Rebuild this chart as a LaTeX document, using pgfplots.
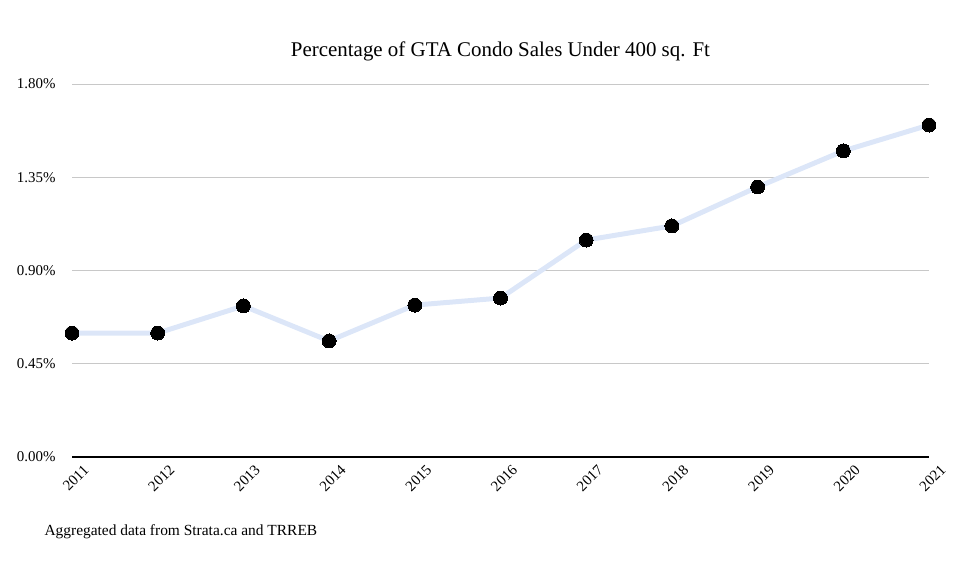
\documentclass[border=0pt]{standalone}
\usepackage{pgfplots}
\pgfplotsset{compat=1.18}
\usepackage{fontspec}
\setmainfont{Liberation Serif}
\definecolor{linecol}{HTML}{DCE6F8}
\definecolor{gridcol}{HTML}{C8C8C8}
\begin{document}
\begin{tikzpicture}
\useasboundingbox (-72bp,-104bp) rectangle (908bp,457bp);
\begin{axis}[
    scale only axis,
    width=857bp, height=373bp,
    xmin=2011, xmax=2021,
    ymin=0, ymax=1.8,
    axis x line*=bottom,
    axis y line*=left,
    x axis line style={black, line width=1.4pt, -},
    y axis line style={draw=none},
    xtick={2011,2012,...,2021},
    xticklabels={2011,2012,2013,2014,2015,2016,2017,2018,2019,2020,2021},
    ytick={0,0.45,0.9,1.35,1.8},
    yticklabels={0.00\%,0.45\%,0.90\%,1.35\%,1.80\%},
    ymajorgrids,
    major grid style={gridcol, line width=0.6pt},
    major tick length=0pt,
    tick label style={font=\fontsize{15}{17}\selectfont},
    xticklabel style={rotate=45, anchor=north east, xshift=6bp, yshift=-9bp},
    yticklabel style={anchor=east, xshift=-13bp},
    title={Percentage of GTA Condo Sales Under 400 sq. Ft},
    title style={font=\fontsize{21}{24}\selectfont, at={(0.5,1)}, anchor=center, yshift=27bp},
    clip=false,
]
\addplot[linecol, line width=5pt, mark=*, mark size=7pt,
    mark options={fill=black, draw=black, line width=0pt}]
coordinates {
    (2011,0.598)(2012,0.598)(2013,0.729)(2014,0.560)(2015,0.733)
    (2016,0.767)(2017,1.047)(2018,1.115)(2019,1.303)(2020,1.477)(2021,1.602)
};
\end{axis}
\node[anchor=west, font=\fontsize{15.5}{18}\selectfont] at (-31bp,-75bp) {Aggregated data from Strata.ca and TRREB};
\end{tikzpicture}
\end{document}
